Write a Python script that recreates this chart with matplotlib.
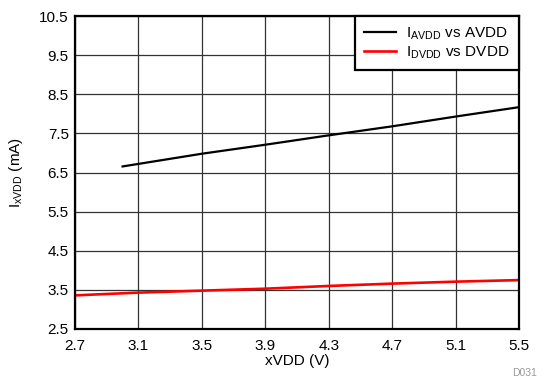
import matplotlib
matplotlib.use("Agg")
import matplotlib.pyplot as plt

plt.rcParams['font.family'] = ['Liberation Sans', 'DejaVu Sans']
plt.rcParams['mathtext.fontset'] = 'custom'
plt.rcParams['mathtext.rm'] = 'Liberation Sans'

# data
avdd_v = [3.0, 3.1, 3.5, 3.9, 4.3, 4.7, 5.1, 5.5]
avdd_ma = [6.655, 6.72, 6.98, 7.21, 7.45, 7.68, 7.93, 8.17]
dvdd_v = [2.7, 3.1, 3.5, 3.9, 4.3, 4.7, 5.1, 5.5]
dvdd_ma = [3.36, 3.43, 3.48, 3.53, 3.60, 3.66, 3.71, 3.75]
xticks = [2.7, 3.1, 3.5, 3.9, 4.3, 4.7, 5.1, 5.5]
yticks = [2.5, 3.5, 4.5, 5.5, 6.5, 7.5, 8.5, 9.5, 10.5]

fig = plt.figure(figsize=(5.44, 3.83), dpi=100)
ax = fig.add_axes([0.1379, 0.1410, 0.8162, 0.8172])

ax.plot(avdd_v, avdd_ma, color='black', lw=1.6,
        label=r'I$_{\mathregular{AVDD}}$ vs AVDD', zorder=3)
ax.plot(dvdd_v, dvdd_ma, color='#ff0000', lw=1.9,
        label=r'I$_{\mathregular{DVDD}}$ vs DVDD', zorder=3)

ax.set_xlim(2.7, 5.5)
ax.set_ylim(2.5, 10.5)
ax.set_xticks(xticks)
ax.set_xticklabels([f"{v:.1f}" for v in xticks])
ax.set_yticks(yticks)
ax.set_yticklabels([f"{v:.1f}" for v in yticks])
ax.tick_params(length=0, labelsize=11)
ax.tick_params(axis='x', pad=7)
ax.tick_params(axis='y', pad=4.5)
ax.grid(True, color='#333333', lw=0.9)
ax.set_axisbelow(True)
for s in ax.spines.values():
    s.set_linewidth(1.6)
    s.set_zorder(4)

ax.set_xlabel('xVDD (V)', fontsize=11, labelpad=1)
ax.set_ylabel(r'I$_{\mathregular{xVDD}}$ (mA)', fontsize=11, labelpad=10)

leg = ax.legend(loc='upper right', fontsize=11, frameon=True, fancybox=False,
                borderaxespad=0, handlelength=2.1, handletextpad=0.65,
                labelspacing=0.12, borderpad=0.62)
leg.get_frame().set_edgecolor('black')
leg.get_frame().set_linewidth(1.6)
leg.get_frame().set_alpha(1)

fig.text(0.987, 0.027, 'D031', color='#999999', fontsize=7.5, ha='right', va='center')

fig.savefig('out.png', dpi=100)
